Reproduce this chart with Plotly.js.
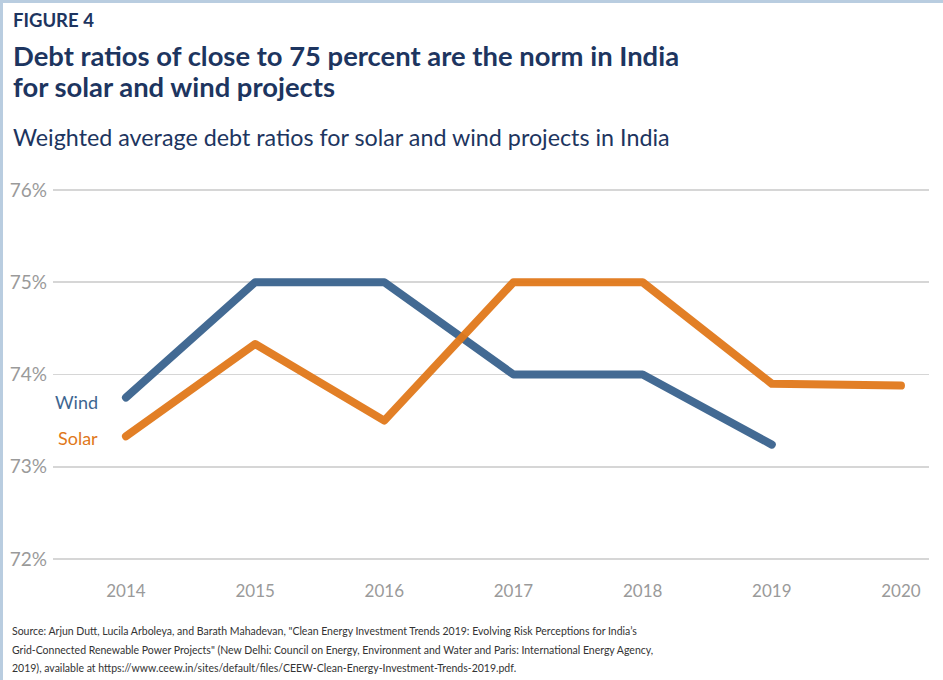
<!DOCTYPE html>
<html>
<head>
<meta charset="utf-8">
<script src="https://cdn.plot.ly/plotly-3.0.1.min.js"></script>
<style>
  html, body { margin: 0; padding: 0; background: #fff; }
  #wrap { position: relative; width: 943px; height: 680px; }
  #chart { width: 943px; height: 680px; }
  #frame { position: absolute; left: 0; top: 0; width: 943px; height: 680px; box-sizing: border-box;
           border-top: 3px solid #b9cde0; border-left: 3px solid #b9cde0; pointer-events: none; }
  .js-line { stroke-linecap: round !important; stroke-linejoin: round !important; }
</style>
</head>
<body>
<div id="wrap"><div id="chart"></div><div id="frame"></div></div>
<script>
// ---- data ----
const years = [2014, 2015, 2016, 2017, 2018, 2019, 2020];
const windYears = [2014, 2015, 2016, 2017, 2018, 2019];
const windValues = [73.75, 75.0, 75.0, 74.0, 74.0, 73.24];
const solarYears = [2014, 2015, 2016, 2017, 2018, 2019, 2020];
const solarValues = [73.33, 74.33, 73.5, 75.0, 75.0, 73.9, 73.88];
const yTicks = [72, 73, 74, 75, 76];
const yTickLabels = ['72%', '73%', '74%', '75%', '76%'];
const xTickLabels = ['2014', '2015', '2016', '2017', '2018', '2019', '2020'];
const figureLabel = 'FIGURE 4';
const titleLine1 = 'Debt ratios of close to 75 percent are the norm in India';
const titleLine2 = 'for solar and wind projects';
const subtitle = 'Weighted average debt ratios for solar and wind projects in India';
const sourceLines = [
  'Source: Arjun Dutt, Lucila Arboleya, and Barath Mahadevan, "Clean Energy Investment Trends 2019: Evolving Risk Perceptions for India\u2019s',
  'Grid-Connected Renewable Power Projects" (New Delhi: Council on Energy, Environment and Water and Paris: International Energy Agency,',
  '2019), available at https://www.ceew.in/sites/default/files/CEEW-Clean-Energy-Investment-Trends-2019.pdf.'
];

// ---- style ----
const W = 943, H = 680;
const M = { l: 53, r: 14, t: 185, b: 116 };
const navy = '#1d3560';
const windColor = '#3d6590';
const solarColor = '#e0781a';
const grey = '#9a9a9a';
const FONT = 'Lato, "Open Sans", sans-serif';

const pw = W - M.l - M.r, ph = H - M.t - M.b;
const px = x => (x - M.l) / pw;
const py = y => (H - M.b - y) / ph;

function txt(text, x, y, size, color, weight) {
  return { text: text, xref: 'paper', yref: 'paper', x: px(x), y: py(y),
           xanchor: 'left', yanchor: 'middle', showarrow: false,
           font: { family: FONT, size: size, color: color, weight: weight || 400 } };
}

const annotations = [
  txt(figureLabel, 11, 20, 18.5, navy, 700),
  txt(titleLine1, 11, 55, 27.4, navy, 700),
  txt(titleLine2, 11, 87, 27.4, navy, 700),
  txt(subtitle, 11, 137, 23.3, navy, 400),
  txt(sourceLines[0], 10, 631, 10.5, '#333333', 400),
  txt(sourceLines[1], 10, 650, 10.5, '#333333', 400),
  txt(sourceLines[2], 10, 668, 10.5, '#333333', 400),
  { text: 'Wind', x: windYears[0], y: windValues[0], xref: 'x', yref: 'y', xanchor: 'right', yanchor: 'middle',
    xshift: -26, yshift: -4, showarrow: false, font: { family: FONT, size: 18, color: windColor } },
  { text: 'Solar', x: solarYears[0], y: solarValues[0], xref: 'x', yref: 'y', xanchor: 'right', yanchor: 'middle',
    xshift: -26, yshift: -2, showarrow: false, font: { family: FONT, size: 18, color: solarColor } }
];

const traces = [
  { x: windYears, y: windValues, type: 'scatter', mode: 'lines', name: 'Wind',
    line: { color: windColor, width: 8 }, opacity: 0.97, hoverinfo: 'skip' },
  { x: solarYears, y: solarValues, type: 'scatter', mode: 'lines', name: 'Solar',
    line: { color: solarColor, width: 8 }, opacity: 0.95, hoverinfo: 'skip' }
];

const layout = {
  width: W, height: H,
  margin: M,
  paper_bgcolor: '#ffffff', plot_bgcolor: '#ffffff',
  showlegend: false,
  font: { family: FONT },
  xaxis: {
    range: [2013.435, 2020.217], tickvals: years, ticktext: xTickLabels,
    showgrid: false, zeroline: false, showline: false, ticks: '',
    tickfont: { family: FONT, size: 17, color: grey }, ticklabelstandoff: 15
  },
  yaxis: {
    range: [71.946, 76.054], tickvals: yTicks, ticktext: yTickLabels,
    showgrid: true, gridcolor: '#d6d6d6', gridwidth: 1.5, zeroline: false, showline: false, ticks: '',
    tickfont: { family: FONT, size: 19, color: grey }, ticklabelstandoff: 5
  },
  annotations: annotations
};

Plotly.newPlot('chart', traces, layout, { staticPlot: true, displayModeBar: false });
</script>
</body>
</html>
